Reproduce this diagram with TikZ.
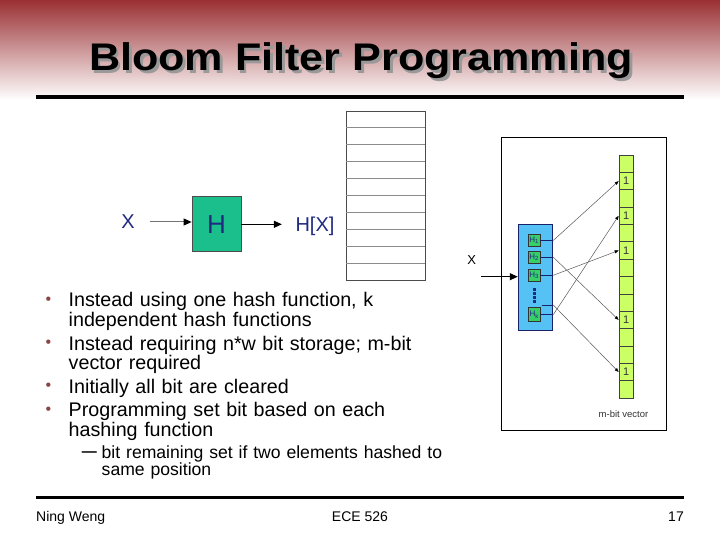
\documentclass[tikz,border=0pt]{standalone}
\usepackage{fontspec}
\setmainfont{Liberation Sans}
\usetikzlibrary{arrows.meta,calc}
\definecolor{hdr}{HTML}{9A3033}
\definecolor{navy}{HTML}{1F2A80}
\definecolor{hgreen}{HTML}{1ABF8C}
\definecolor{skyb}{HTML}{56C1F5}
\definecolor{hsub}{HTML}{36CF6A}
\definecolor{bitg}{HTML}{CCFF66}
\definecolor{bulc}{HTML}{8A4545}
\protected\def\fixsp{\spaceskip=\fontdimen2\font\relax}
\begin{document}
\begin{tikzpicture}[x=1pt,y=-1pt,
  txt/.style={anchor=base west,inner sep=0,text width=400pt,align=left,
     font=\fontsize{19.7}{18.3}\selectfont\fixsp},
  subtxt/.style={anchor=base west,inner sep=0,text width=400pt,align=left,
     font=\fontsize{17.6}{15}\selectfont\fixsp},
  bul/.style={anchor=center,inner sep=0,text=bulc,font=\fontsize{16}{16}\selectfont},
  foot/.style={inner sep=0,font=\fontsize{14}{14}\selectfont},
  garrow/.style={draw=gray!90!black,line width=1pt,-{Triangle[length=8pt,width=7pt,color=black]}},
  thin arrow/.style={draw=black!65,line width=0.5pt,-{Triangle[length=4pt,width=3pt,color=black]}},
  hsubbox/.style={draw=black!80,fill=hsub,line width=0.6pt,minimum width=11.7pt,minimum height=12.5pt,inner sep=0,
     font=\fontsize{8}{8}\selectfont,text=navy},
  bitcell/.style={draw=black!75,fill=bitg,line width=0.7pt,minimum width=14.3pt,minimum height=17.36pt,inner sep=0},
]
\useasboundingbox (0,0) rectangle (720,540);
\fill[white] (0,0) rectangle (720,540);
\shade[top color=hdr,bottom color=white] (0,0) rectangle (720,100);
% title (with its drop shadow)
\node[anchor=base,inner sep=0,font=\fontsize{38.5}{38.5}\selectfont\bfseries] (title) at (361,71)
  {\scalebox{1.12}[1]{\rlap{\raisebox{-2.5pt}{\hspace{2.5pt}\color{black!40}Bloom Filter Programming}}Bloom Filter Programming}};
\draw[line width=3.5pt] (36,97) -- (684,97);
% left diagram
\node[draw=black!70,fill=hgreen,line width=0.8pt,minimum width=49pt,minimum height=55pt,inner sep=0,
  text=navy,font=\fontsize{26}{26}\selectfont] (H) at (216.5,224.3) {H};
\node[inner sep=0,text=navy,font=\fontsize{20}{20}\selectfont] (X) at (128,222) {X};
\node[inner sep=0,text=navy,font=\fontsize{20}{20}\selectfont] (HX) at (315,226) {H[X]};
\draw[garrow,shorten <=15pt] (X.east) -- (X.east -| H.west);
\draw[garrow,draw=black,shorten >=13.5pt] (H.east) -- (HX.west |- H.east);
\node[draw=black!70,line width=1pt,minimum width=79pt,minimum height=169pt,inner sep=0] (table) at (385.5,196) {};
\foreach \i in {1,...,9}{
  \draw[black!45,line width=0.8pt] ($(table.north west)+(0.5,16.9*\i)$) -- ($(table.north east)+(-0.5,16.9*\i)$);
}
% right diagram
\node[draw=black,line width=0.8pt,minimum width=165.7pt,minimum height=292.7pt,inner sep=0] (frame) at (583.85,283.65) {};
\node[draw=navy!80!black,fill=skyb,line width=0.8pt,minimum width=34.7pt,minimum height=105.7pt,inner sep=0] (hb) at (535.5,277.2) {};
\node[hsubbox] (H1) at (534.2,240.5) {H\textsubscript{1}};
\node[hsubbox] (H2) at (534.2,257.2) {H\textsubscript{2}};
\node[hsubbox] (H3) at (534.2,275.3) {H\textsubscript{3}};
\node[hsubbox,minimum height=14pt] (Hk) at (534.2,314.7) {H\textsubscript{k}};
\draw[navy,line width=2.6pt,dash pattern=on 2.6pt off 1.4pt] (534.3,288) -- (534.3,303.5);
\coordinate (Hd) at (541.7,305);
\foreach \n in {H1,H2,H3,Hd,Hk}{
  \coordinate (p\n) at (\n.east -| hb.east);
  \draw[navy!80!black,line width=0.8pt] (\n.east) -- (p\n);
}
\foreach \i in {0,...,13}{
  \node[bitcell] (b\i) at (626.15,{155+17.36*(\i+0.5)}) {};
}
\foreach \i in {1,3,5,9,12}{
  \node[inner sep=0,font=\fontsize{11}{11}\selectfont,text=black!80] (one\i) at (b\i) {1};
}
\draw[thin arrow] (pH1) -- (b1.west);
\draw[thin arrow] (pHk) -- (b3.west);
\draw[thin arrow] (pH3) -- (b5.west);
\draw[thin arrow] (pH2) -- (b9.west);
\draw[thin arrow] (pHd) -- (b12.west);
\node[inner sep=0,text=black!80,font=\fontsize{9.5}{9.5}\selectfont] (mbit) at (623.5,414) {m-bit vector};
\node[inner sep=0,font=\fontsize{13}{13}\selectfont] (X2) at (471.7,260) {X};
\coordinate (xin) at (481,276.7);
\draw[line width=1.2pt,-{Triangle[length=8pt,width=7pt]}] (xin) -- (xin -| hb.west);
% bullets
\node[bul] (bu1) at (48.5,300.5) {•};
\node[txt] (l1) at (68.5,306.7) {Instead using one hash function, k\\independent hash functions};
\node[bul] (bu2) at (48.5,343.8) {•};
\node[txt] (l2) at (68.5,350) {Instead requiring n*w bit storage; m-bit\\vector required};
\node[bul] (bu3) at (48.5,387.1) {•};
\node[txt] (l3) at (68.5,393.3) {Initially all bit are cleared};
\node[bul] (bu4) at (48.5,410.5) {•};
\node[txt] (l4) at (68.5,416.7) {Programming set bit based on each\\hashing function};
\node[anchor=base west,inner sep=0,font=\fontsize{15}{15}\selectfont\bfseries] (dash) at (81.7,456) {—};
\node[subtxt] (s1) at (101.5,458.3) {bit remaining set if two elements hashed to\\same position};
% footer
\draw[line width=3pt] (36,497.5) -- (684,497.5);
\node[foot,anchor=base west] (fl) at (36,521) {Ning Weng};
\node[foot,anchor=base] (fc) at (360,521) {ECE 526};
\node[foot,anchor=base east] (fr) at (684,521) {17};
\end{tikzpicture}
\end{document}
